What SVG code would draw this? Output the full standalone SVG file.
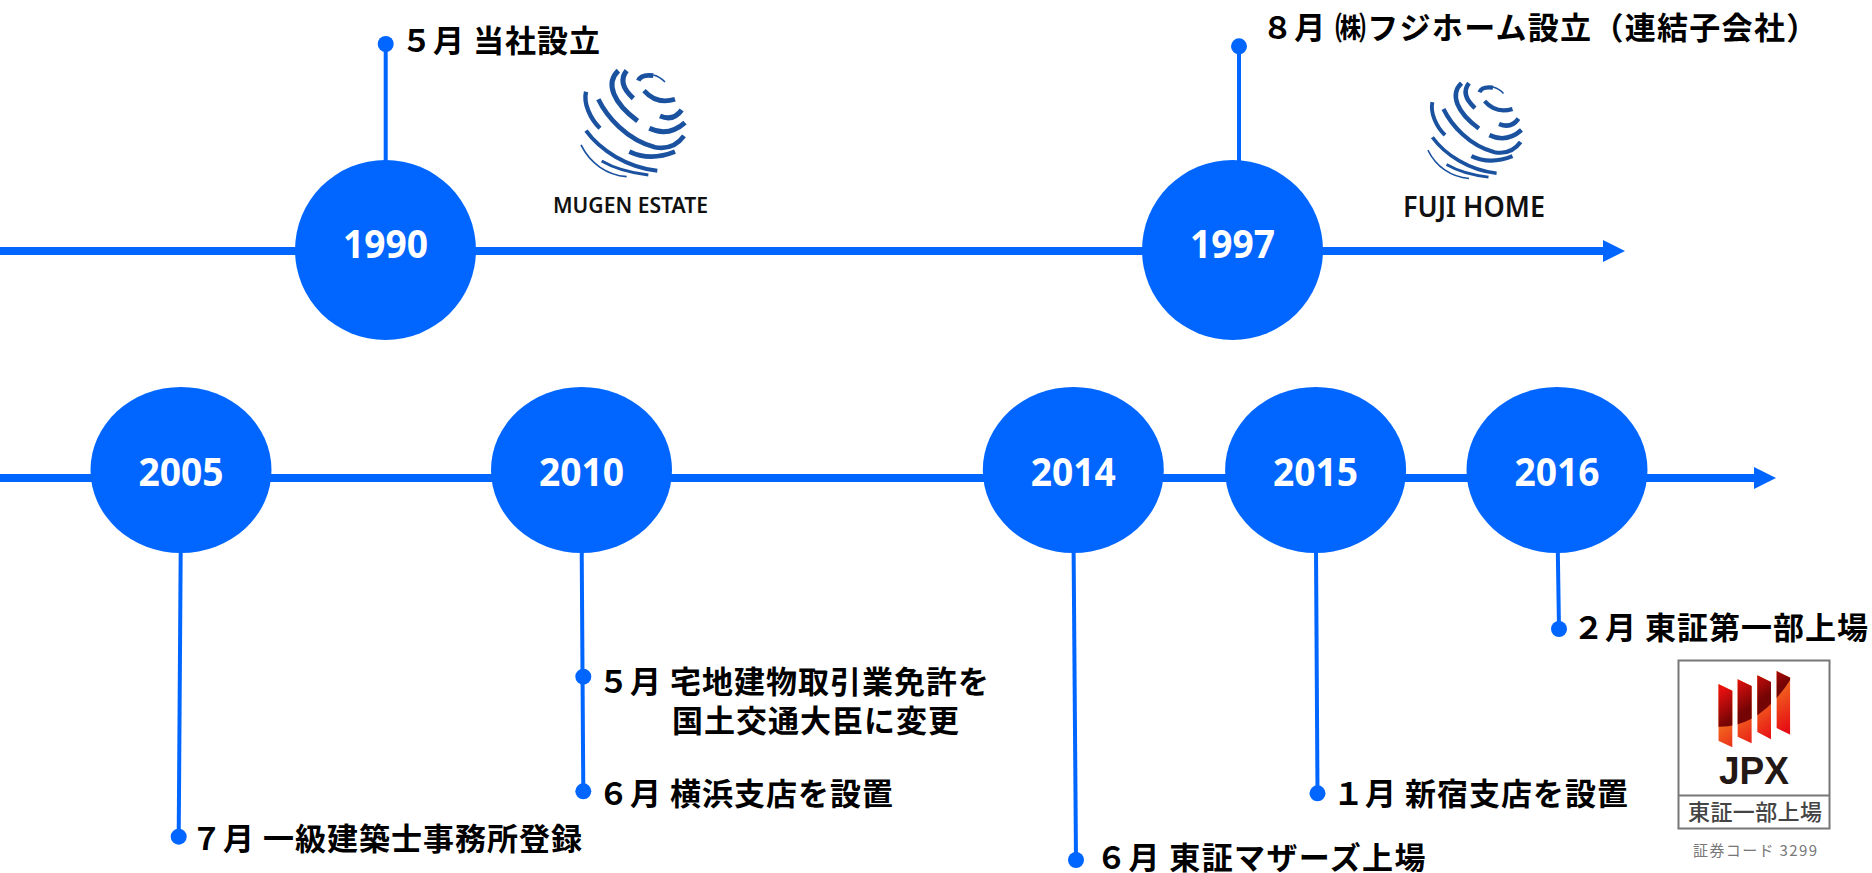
<svg xmlns="http://www.w3.org/2000/svg" width="1872" height="873" viewBox="0 0 1872 873">
<style>
.bg{fill:#fff}
.ax{stroke:#0066ff;stroke-width:8;fill:none}
.st{stroke:#0066ff;stroke-width:4;fill:none}
.hd,.dt,.yr{fill:#0066ff}
.yt{font:700 39px "Open Sans","Noto Sans",sans-serif;fill:#fff;text-anchor:middle}
.lb{font:700 31px "Noto Sans CJK JP",sans-serif;fill:#000;letter-spacing:1px}
.g{fill:none;stroke:#1a52a0;stroke-linecap:butt}
.jb{fill:none;stroke:#777;stroke-width:2}
</style>
<defs>
<linearGradient id="jd" gradientUnits="userSpaceOnUse" x1="585" y1="260" x2="639" y2="337"><stop offset="0" stop-color="#e8100f"/><stop offset="1" stop-color="#750404"/></linearGradient>
<linearGradient id="jo" gradientUnits="userSpaceOnUse" x1="640" y1="300" x2="720" y2="420"><stop offset="0" stop-color="#f47a22"/><stop offset="1" stop-color="#e60f14"/></linearGradient>
<clipPath id="jc"><polygon points="565,252 607,272 607,442 565,422"/><polygon points="623,238 665,258 665,430 623,410"/><polygon points="682,226 723,246 723,418 682,396"/><polygon points="740,213 781,233 781,404 740,384"/></clipPath>
<g id="globe">
<path class="g" stroke-width="14" d="M205 62Q213 42 250 47"/>
<path class="g" stroke-width="5" d="M250 45Q270 50 285 66"/>
<path class="g" stroke-width="14" d="M222 92Q260 135 315 118"/>
<path class="g" stroke-width="15" d="M190 115Q140 70 170 32"/>
<path class="g" stroke-width="15" d="M145 32C105 70 130 130 203 183"/>
<path class="g" stroke-width="14" d="M85 118C110 170 170 240 255 262Q310 272 342 228"/>
<path class="g" stroke-width="15" d="M238 205Q295 232 345 188"/>
<path class="g" stroke-width="15" d="M270 168Q310 185 335 150"/>
<path class="g" stroke-width="13" d="M48 95C40 130 60 175 90 205"/>
<path class="g" stroke-width="12" d="M48 212C90 270 170 322 262 332"/>
<path class="g" stroke-width="14" d="M178 275Q240 305 315 275"/>
<path class="g" stroke-width="9" d="M95 303Q150 335 235 345"/>
<path class="g" stroke-width="5" d="M33 255C60 310 110 345 170 350"/>
</g>
</defs>
<rect class="bg" width="1872" height="873"/>
<g id="connectors">
<path class="ax" d="M0 251H1604"/><polygon class="hd" points="1603,240 1625,251 1603,262"/>
<path class="ax" d="M0 478H1755"/><polygon class="hd" points="1754,467 1776,478 1754,489"/>
<path class="st" d="M385.7 44V162"/>
<path class="st" d="M1239 46V162"/>
<path class="st" d="M180.7 550L178.7 837"/>
<path class="st" d="M581.7 550L583.3 791"/>
<path class="st" d="M1073.6 550L1076 860"/>
<path class="st" d="M1316 550L1317.5 793"/>
<path class="st" d="M1557.8 550L1559 629"/>
</g>
<g id="n1990"><ellipse class="yr" cx="385.5" cy="250" rx="90.5" ry="90"/><text class="yt" x="385.5" y="258" textLength="85" lengthAdjust="spacingAndGlyphs">1990</text></g>
<g id="n1997"><ellipse class="yr" cx="1232.5" cy="250" rx="90.5" ry="90"/><text class="yt" x="1232.5" y="258" textLength="85" lengthAdjust="spacingAndGlyphs">1997</text></g>
<g id="n2005"><ellipse class="yr" cx="181" cy="470" rx="90.5" ry="83"/><text class="yt" x="181" y="486" textLength="85" lengthAdjust="spacingAndGlyphs">2005</text></g>
<g id="n2010"><ellipse class="yr" cx="581.5" cy="470" rx="90.5" ry="83"/><text class="yt" x="581.5" y="486" textLength="85" lengthAdjust="spacingAndGlyphs">2010</text></g>
<g id="n2014"><ellipse class="yr" cx="1073.3" cy="470" rx="90.5" ry="83"/><text class="yt" x="1073.3" y="486" textLength="85" lengthAdjust="spacingAndGlyphs">2014</text></g>
<g id="n2015"><ellipse class="yr" cx="1315.6" cy="470" rx="90.5" ry="83"/><text class="yt" x="1315.6" y="486" textLength="85" lengthAdjust="spacingAndGlyphs">2015</text></g>
<g id="n2016"><ellipse class="yr" cx="1557" cy="470" rx="90.5" ry="83"/><text class="yt" x="1557" y="486" textLength="85" lengthAdjust="spacingAndGlyphs">2016</text></g>
<g id="e1990"><circle class="dt" cx="385.7" cy="44" r="8"/><text class="lb" x="401" y="52">５月 当社設立</text></g>
<g id="e1997"><circle class="dt" cx="1239" cy="46.3" r="8"/><text class="lb" x="1262" y="39" style="letter-spacing:1.3px">８月 ㈱フジホーム設立（連結子会社）</text></g>
<g id="e2005"><circle class="dt" cx="178.7" cy="836.7" r="8"/><text class="lb" x="191" y="850">７月 一級建築士事務所登録</text></g>
<g id="e2010a"><circle class="dt" cx="583.3" cy="676.7" r="8"/><text class="lb" x="598" y="693">５月 宅地建物取引業免許を</text><text class="lb" x="672" y="732">国土交通大臣に変更</text></g>
<g id="e2010b"><circle class="dt" cx="583.3" cy="791.3" r="8"/><text class="lb" x="598" y="805">６月 横浜支店を設置</text></g>
<g id="e2014"><circle class="dt" cx="1076" cy="860" r="8"/><text class="lb" x="1096" y="869" style="letter-spacing:1.4px">６月 東証マザーズ上場</text></g>
<g id="e2015"><circle class="dt" cx="1317.5" cy="793.3" r="8"/><text class="lb" x="1333" y="805">１月 新宿支店を設置</text></g>
<g id="e2016"><circle class="dt" cx="1559" cy="629" r="8"/><text class="lb" x="1573" y="639">２月 東証第一部上場</text></g>
<g id="logo-mugen">
<use href="#globe" transform="translate(570 60) scale(.3333)"/>
<text x="553" y="213" font-family="'Noto Sans',sans-serif" font-weight="600" font-size="22" fill="#111" textLength="155" lengthAdjust="spacingAndGlyphs">MUGEN ESTATE</text>
</g>
<g id="logo-fuji">
<use href="#globe" transform="translate(1418 73.6) scale(.3)"/>
<text x="1403" y="217" font-family="'Noto Sans',sans-serif" font-weight="600" font-size="28" fill="#111" textLength="142" lengthAdjust="spacingAndGlyphs">FUJI HOME</text>
</g>
<g id="logo-jpx">
<rect class="jb" x="1678.5" y="660.5" width="151" height="168"/>
<path class="jb" d="M1678 795.5H1830"/>
<g transform="translate(1530 600) scale(.3333)">
<g clip-path="url(#jc)">
<rect x="555" y="205" width="235" height="245" fill="url(#jo)"/>
<path d="M555 380Q690 390 790 225V200H555Z" fill="url(#jd)"/>
</g>
</g>
<text x="1754" y="784" text-anchor="middle" font-family="'Liberation Sans',sans-serif" font-weight="700" font-size="38" fill="#231815" textLength="70" lengthAdjust="spacingAndGlyphs">JPX</text>
<text x="1688" y="820" font-family="'Noto Sans CJK JP',sans-serif" font-weight="500" font-size="22" fill="#444" textLength="134">東証一部上場</text>
<text x="1693" y="856" font-family="'Noto Sans CJK JP',sans-serif" font-size="15" fill="#777" textLength="124">証券コード 3299</text>
</g>
</svg>
